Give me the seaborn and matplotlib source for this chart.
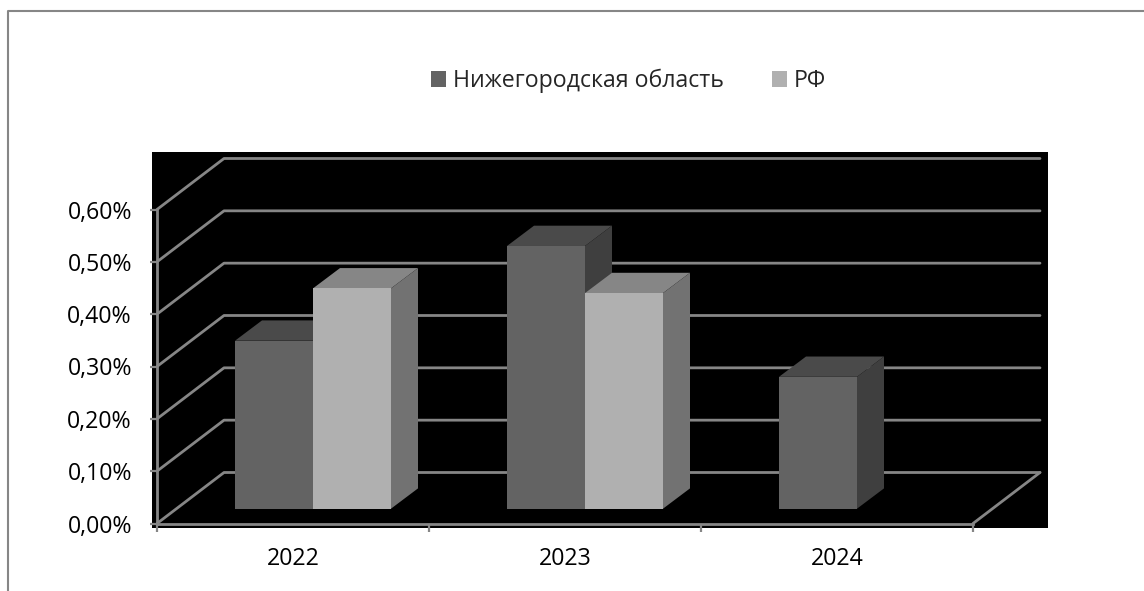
import matplotlib
matplotlib.use("Agg")
import matplotlib.pyplot as plt
from matplotlib.lines import Line2D
from matplotlib.patches import Polygon, Rectangle
import numpy as np
import pandas as pd
import seaborn as sns

# data
YEARS = ["2022", "2023", "2024"]
NIZHNY = [0.321, 0.502, 0.252]
RF = [0.421, 0.412, np.nan]
SERIES_NAMES = ["Нижегородская область", "РФ"]
Y_TICKS = [0.0, 0.1, 0.2, 0.3, 0.4, 0.5, 0.6]
Y_LABELS = ["0,00%", "0,10%", "0,20%", "0,30%", "0,40%", "0,50%", "0,60%"]

# colours: front, top, side
FRONT = {"Нижегородская область": "#636363", "РФ": "#b0b0b0"}
TOP = {"#636363": "#4a4a4a", "#b0b0b0": "#868686"}
SIDE = {"#636363": "#3f3f3f", "#b0b0b0": "#727272"}
GRID = "#868686"
LW = 2.0

W, H = 1144, 591
LEFT, RIGHT, BOTTOM, TOP_PX = 157, 973, 523.5, 209.5   # front plane in pixels

sns.set_style("white")
plt.rcParams["font.family"] = ["Open Sans", "DejaVu Sans"]
FS = 16.7

df = pd.DataFrame({
    "year": YEARS * 2,
    "value": NIZHNY + RF,
    "series": [SERIES_NAMES[0]] * 3 + [SERIES_NAMES[1]] * 3,
})

fig = plt.figure(figsize=(W / 100, H / 100), dpi=100, facecolor="white")
ax = fig.add_axes([LEFT / W, 1 - BOTTOM / H, (RIGHT - LEFT) / W, (BOTTOM - TOP_PX) / H])
ax.patch.set_visible(False)

# black backdrop and outer frame
fig.add_artist(Rectangle((152 / W, 1 - 527.5 / H), 896 / W, 375.5 / H,
                         transform=fig.transFigure, color="black", lw=0, zorder=-1))
fig.add_artist(Line2D([7.5 / W, 7.5 / W, 1], [0, 1 - 10.5 / H, 1 - 10.5 / H],
                      color=GRID, lw=1.5, zorder=-1))

sns.barplot(data=df, x="year", y="value", hue="series", palette=FRONT, order=YEARS,
            hue_order=SERIES_NAMES, width=0.5735, saturation=1, linewidth=0, ax=ax)

ax.set_xlim(-0.5, 2.5)
ax.set_ylim(0, 0.6)

# pixel offsets converted to data units
px_x = 3 / (RIGHT - LEFT)
px_y = 0.6 / (BOTTOM - TOP_PX)
WALL_DX, WALL_DY = 67 * px_x, 51 * px_y
BAR_DX, BAR_DY = 20 * px_x, 14.8 * px_y
DEPTH_X, DEPTH_Y = 27 * px_x, 20.3 * px_y

# back wall grid and floor
for v in Y_TICKS:
    ax.plot([-0.5, -0.5 + WALL_DX, 2.5 + WALL_DX], [v, v + WALL_DY, v + WALL_DY],
            color=GRID, lw=LW, clip_on=False, zorder=1, solid_joinstyle="round")
ax.plot([2.5, 2.5 + WALL_DX], [0, WALL_DY], color=GRID, lw=LW, clip_on=False, zorder=1)

# extrude the seaborn bars into boxes
bars = [p for p in ax.patches if p.get_height() > 0]
for p in bars:
    p.set_x(p.get_x() + BAR_DX)
    p.set_y(BAR_DY)
    p.set_clip_on(False)
    face = matplotlib.colors.to_hex(p.get_facecolor())
    z = 3 if face == "#636363" else 6
    p.set_zorder(z + 1)
    x0, w, y0, h = p.get_x(), p.get_width(), p.get_y(), p.get_height()
    top = [(x0, y0 + h), (x0 + w, y0 + h), (x0 + w + DEPTH_X, y0 + h + DEPTH_Y), (x0 + DEPTH_X, y0 + h + DEPTH_Y)]
    side = [(x0 + w, y0), (x0 + w + DEPTH_X, y0 + DEPTH_Y), (x0 + w + DEPTH_X, y0 + h + DEPTH_Y), (x0 + w, y0 + h)]
    ax.add_patch(Polygon(top, closed=True, color=TOP[face], lw=0, zorder=z, clip_on=False))
    ax.add_patch(Polygon(side, closed=True, color=SIDE[face], lw=0, zorder=z, clip_on=False))

# axes
ax.set_xlabel("")
ax.set_ylabel("")
ax.set_yticks(Y_TICKS)
ax.set_yticklabels(Y_LABELS, fontsize=FS, color="black")
ax.set_xticks(range(len(YEARS)))
ax.set_xticklabels(YEARS, fontsize=FS, color="black")
ax.set_xticks([-0.5, 0.5, 1.5, 2.5], minor=True)
ax.tick_params(axis="y", which="major", left=True, length=5, width=1.6, color=GRID, pad=13)
ax.tick_params(axis="x", which="major", bottom=False, length=0, pad=17)
ax.tick_params(axis="x", which="minor", bottom=True, length=5.5, width=1.6, color=GRID)
sns.despine(ax=ax)
for side_name in ["left", "bottom"]:
    ax.spines[side_name].set_color(GRID)
    ax.spines[side_name].set_linewidth(LW)
    ax.spines[side_name].set_zorder(2)

sns.move_legend(ax, "center", bbox_to_anchor=(0.578, 1.409), ncol=2, title=None, frameon=False,
                fontsize=FS, handlelength=0.65, handleheight=0.65, handletextpad=0.3,
                columnspacing=2.07, borderpad=0, borderaxespad=0)

fig.savefig("out.png", dpi=100)
